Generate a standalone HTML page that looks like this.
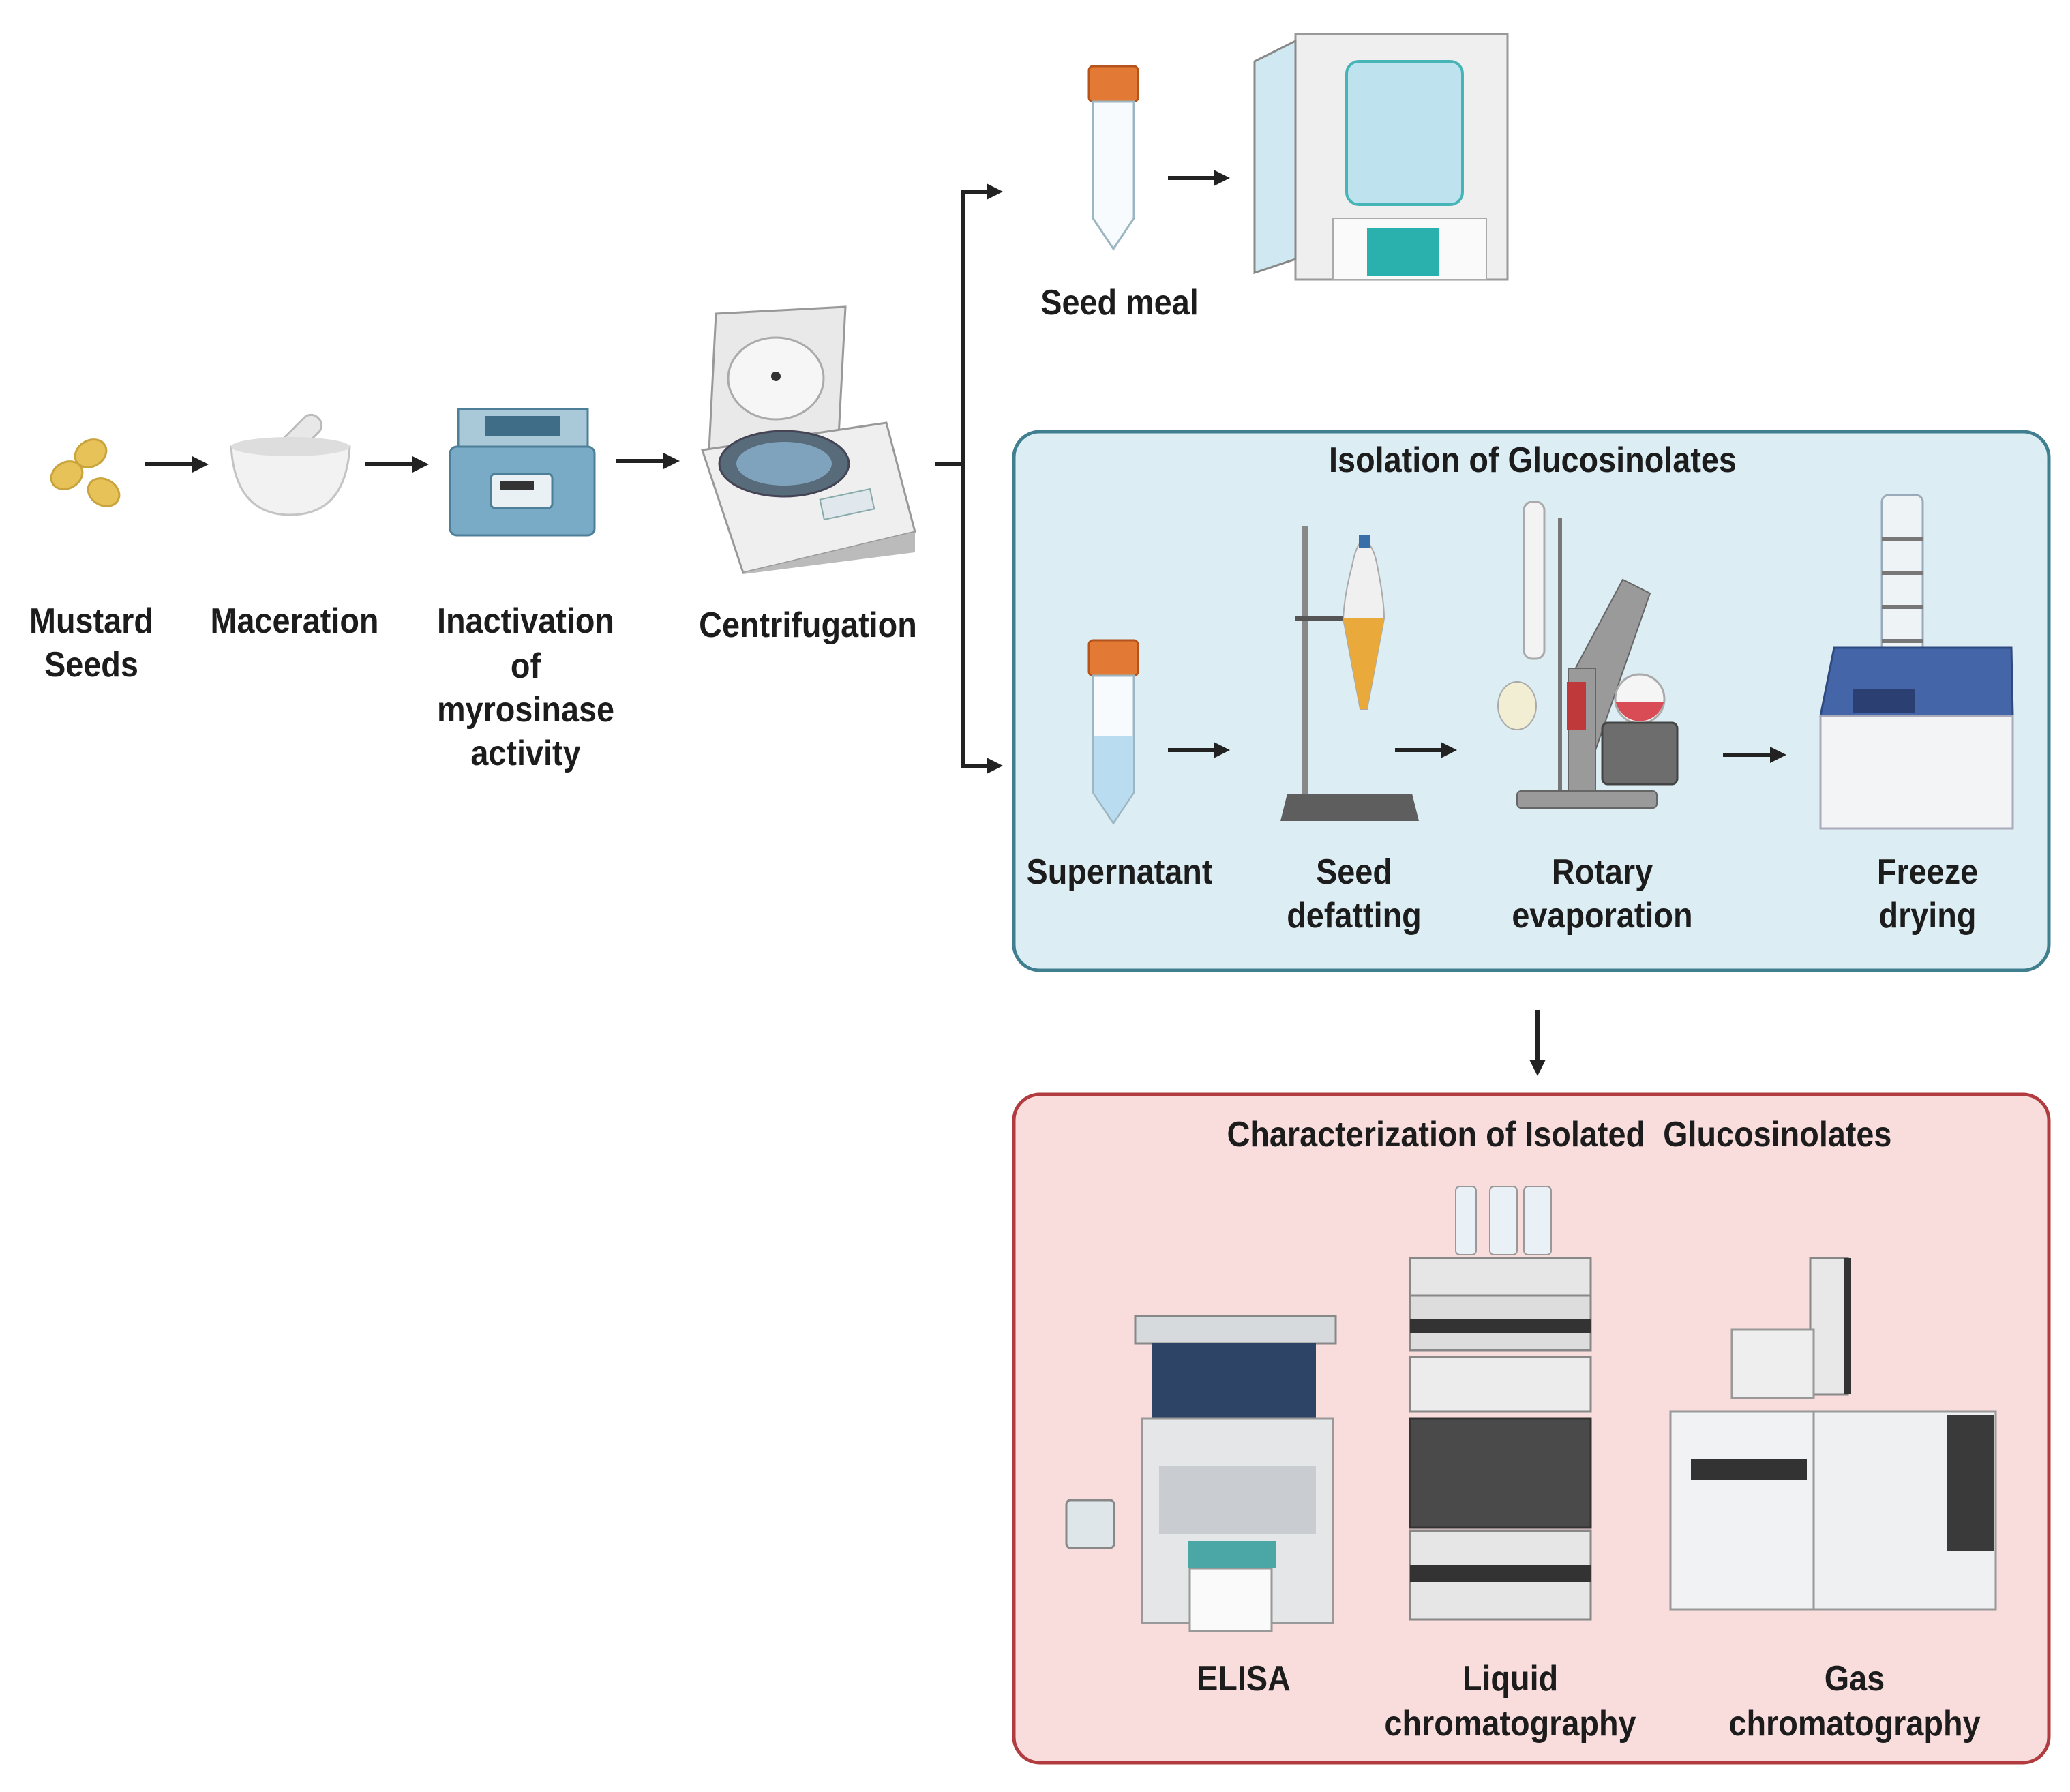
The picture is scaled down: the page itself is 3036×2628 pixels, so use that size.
<!DOCTYPE html>
<html><head><meta charset="utf-8"><style>
html,body{margin:0;padding:0;background:#fff;}
svg{display:block}
text{font-family:"Liberation Sans Narrow","Liberation Sans",sans-serif;font-weight:bold;fill:#1c1c1c;transform-box:fill-box;transform-origin:center;transform:scaleX(0.9);}
</style></head><body>
<svg width="3036" height="2628" viewBox="0 0 3036 2628" xmlns="http://www.w3.org/2000/svg">
<!-- boxes -->
<rect x="1487" y="633" width="1518" height="790" rx="38" fill="#dcedf4" stroke="#3f7f8f" stroke-width="5"/>
<rect x="1487" y="1605" width="1518" height="980" rx="38" fill="#f9dcdc" stroke="#b23b3f" stroke-width="5"/>

<!-- arrows -->
<g stroke="#222" stroke-width="6" fill="#222">
<line x1="213" y1="681" x2="285" y2="681"/><polygon points="306,681 282,669 282,693" stroke="none"/>
<line x1="536" y1="681" x2="608" y2="681"/><polygon points="629,681 605,669 605,693" stroke="none"/>
<line x1="904" y1="676" x2="976" y2="676"/><polygon points="997,676 973,664 973,688" stroke="none"/>
<line x1="1371" y1="681" x2="1413" y2="681"/>
<line x1="1413" y1="281" x2="1413" y2="1123"/>
<line x1="1410" y1="281" x2="1450" y2="281"/><polygon points="1471,281 1447,269 1447,293" stroke="none"/>
<line x1="1410" y1="1123" x2="1450" y2="1123"/><polygon points="1471,1123 1447,1111 1447,1135" stroke="none"/>
<line x1="1713" y1="261" x2="1783" y2="261"/><polygon points="1804,261 1780,249 1780,273" stroke="none"/>
<line x1="1713" y1="1100" x2="1783" y2="1100"/><polygon points="1804,1100 1780,1088 1780,1112" stroke="none"/>
<line x1="2046" y1="1100" x2="2116" y2="1100"/><polygon points="2137,1100 2113,1088 2113,1112" stroke="none"/>
<line x1="2527" y1="1107" x2="2599" y2="1107"/><polygon points="2620,1107 2596,1095 2596,1119" stroke="none"/>
<line x1="2255" y1="1481" x2="2255" y2="1557"/><polygon points="2255,1578 2243,1554 2267,1554" stroke="none"/>
</g>

<!-- seeds -->
<g fill="#e6c259" stroke="#c9a43c" stroke-width="3">
<ellipse cx="133" cy="665" rx="24" ry="19" transform="rotate(-30 133 665)"/>
<ellipse cx="98" cy="697" rx="24" ry="19" transform="rotate(-30 98 697)"/>
<ellipse cx="152" cy="722" rx="24" ry="19" transform="rotate(30 152 722)"/>
</g>
<!-- mortar -->
<rect x="420" y="600" width="30" height="90" rx="14" fill="#e8e8e8" stroke="#bbb" stroke-width="3" transform="rotate(45 435 645)"/>
<path d="M339 655 Q345 755 426 755 Q507 755 513 655 Z" fill="#f2f2f2" stroke="#c4c4c4" stroke-width="3"/>
<ellipse cx="426" cy="655" rx="87" ry="14" fill="#ddd"/>
<!-- heat block -->
<rect x="672" y="600" width="190" height="60" fill="#a9c9d9" stroke="#4e7f98" stroke-width="3"/>
<rect x="712" y="610" width="110" height="30" fill="#3f6d88"/>
<rect x="660" y="655" width="212" height="130" rx="10" fill="#79aac6" stroke="#4e7f98" stroke-width="3"/>
<rect x="720" y="695" width="90" height="50" rx="6" fill="#e9f1f5" stroke="#4e7f98" stroke-width="3"/>
<rect x="733" y="705" width="50" height="14" fill="#333"/>
<!-- centrifuge -->
<path d="M1050 460 L1240 450 L1230 640 L1040 660 Z" fill="#e9e9e9" stroke="#999" stroke-width="3"/>
<ellipse cx="1138" cy="555" rx="70" ry="60" fill="#f6f6f6" stroke="#aaa" stroke-width="3"/>
<circle cx="1138" cy="552" r="7" fill="#333"/>
<path d="M1030 660 L1300 620 L1342 780 L1090 840 Z" fill="#efefef" stroke="#999" stroke-width="3"/>
<path d="M1090 840 L1342 780 L1342 810 L1090 842 Z" fill="#bbb"/>
<ellipse cx="1150" cy="680" rx="95" ry="48" fill="#576b7a" stroke="#445" stroke-width="3"/>
<ellipse cx="1150" cy="680" rx="70" ry="32" fill="#7fa3bd"/>
<rect x="1205" y="725" width="75" height="30" fill="#e0e8ee" stroke="#8aa" stroke-width="2" transform="rotate(-12 1240 740)"/>
<!-- tubes -->
<rect x="1597" y="97" width="72" height="52" rx="6" fill="#e27a35" stroke="#b4531b" stroke-width="3"/>
<path d="M1603 149 L1663 149 L1663 320 L1633 365 L1603 320 Z" fill="#f7fbfd" stroke="#9cb6c2" stroke-width="3"/>
<rect x="1597" y="939" width="72" height="52" rx="6" fill="#e27a35" stroke="#b4531b" stroke-width="3"/>
<path d="M1603 991 L1663 991 L1663 1162 L1633 1207 L1603 1162 Z" fill="#f7fbfd" stroke="#9cb6c2" stroke-width="3"/>
<path d="M1604 1080 L1662 1080 L1662 1162 L1633 1205 L1604 1162 Z" fill="#b9dcf0"/>
<!-- incubator -->
<rect x="1900" y="50" width="311" height="360" fill="#efefef" stroke="#999" stroke-width="3"/>
<rect x="1975" y="90" width="170" height="210" rx="18" fill="#bfe3ee" stroke="#46b5b8" stroke-width="4"/>
<path d="M1840 90 L1900 60 L1900 380 L1840 400 Z" fill="#cfe8f2" stroke="#888" stroke-width="3"/>
<rect x="1955" y="320" width="225" height="90" fill="#fafafa" stroke="#aaa" stroke-width="2"/>
<rect x="2005" y="335" width="105" height="70" fill="#2ab0ad"/>
<!-- stand -->
<rect x="1910" y="771" width="8" height="400" fill="#888"/>
<polygon points="1888,1164 2071,1164 2081,1204 1878,1204" fill="#5e5e5e"/>
<line x1="1900" y1="907" x2="2030" y2="907" stroke="#555" stroke-width="6"/>
<path d="M1983 830 Q1988 800 2000 790 Q2015 800 2020 830 Q2030 880 2030 907 L2005 1040 L1995 1040 L1970 907 Q1972 870 1983 830 Z" fill="#f0f0f0" stroke="#aaa" stroke-width="2"/>
<path d="M1970 907 L2030 907 L2005 1040 L1995 1040 Z" fill="#e9a93b"/>
<rect x="1993" y="785" width="16" height="18" fill="#3a6ea8"/>
<!-- rotavap -->
<rect x="2235" y="736" width="30" height="230" rx="12" fill="#f3f3f3" stroke="#aaa" stroke-width="3"/>
<rect x="2285" y="760" width="6" height="420" fill="#777"/>
<path d="M2300 1000 L2380 850 L2420 870 L2340 1100 Z" fill="#9a9a9a" stroke="#666" stroke-width="2"/>
<rect x="2300" y="980" width="40" height="200" fill="#9a9a9a" stroke="#666" stroke-width="2"/>
<rect x="2298" y="1000" width="28" height="70" fill="#c0393a"/>
<circle cx="2405" cy="1025" r="36" fill="#f5f5f5" stroke="#aaa" stroke-width="3"/>
<path d="M2370 1030 A36 36 0 0 0 2440 1030 Z" fill="#d94c55"/>
<rect x="2350" y="1060" width="110" height="90" rx="8" fill="#6d6d6d" stroke="#444" stroke-width="3"/>
<ellipse cx="2225" cy="1035" rx="28" ry="35" fill="#f1eed3" stroke="#aaa" stroke-width="2"/>
<rect x="2225" y="1160" width="205" height="25" rx="6" fill="#9a9a9a" stroke="#666" stroke-width="2"/>
<!-- freeze dryer -->
<rect x="2760" y="726" width="60" height="250" rx="10" fill="#eef4f6" stroke="#9ab" stroke-width="3"/>
<g stroke="#777" stroke-width="6"><line x1="2760" y1="790" x2="2820" y2="790"/><line x1="2760" y1="840" x2="2820" y2="840"/><line x1="2760" y1="890" x2="2820" y2="890"/><line x1="2760" y1="940" x2="2820" y2="940"/></g>
<path d="M2690 950 L2950 950 L2952 1050 L2670 1050 Z" fill="#4466a8" stroke="#2f4a80" stroke-width="3"/>
<rect x="2718" y="1010" width="90" height="35" fill="#2c3f73"/>
<rect x="2670" y="1050" width="282" height="165" fill="#f2f4f6" stroke="#aab" stroke-width="3"/>
<!-- ELISA -->
<rect x="1665" y="1930" width="294" height="40" fill="#d6dadd" stroke="#888" stroke-width="3"/>
<rect x="1690" y="1970" width="240" height="110" fill="#2e4466"/>
<rect x="1675" y="2080" width="280" height="300" fill="#e4e6e8" stroke="#999" stroke-width="3"/>
<rect x="1700" y="2150" width="230" height="100" fill="#c9cdd1"/>
<rect x="1745" y="2300" width="120" height="92" fill="#fafafa" stroke="#999" stroke-width="3"/>
<rect x="1564" y="2200" width="70" height="70" rx="6" fill="#dfe6ea" stroke="#888" stroke-width="3"/>
<rect x="1742" y="2260" width="130" height="40" fill="#4aa7a5"/>
<!-- LC -->
<rect x="2135" y="1740" width="30" height="100" rx="6" fill="#e9f1f6" stroke="#999" stroke-width="2"/>
<rect x="2185" y="1740" width="40" height="100" rx="6" fill="#e9f1f6" stroke="#999" stroke-width="2"/>
<rect x="2235" y="1740" width="40" height="100" rx="6" fill="#e9f1f6" stroke="#999" stroke-width="2"/>
<rect x="2068" y="1845" width="265" height="55" fill="#e6e6e6" stroke="#888" stroke-width="3"/>
<rect x="2068" y="1900" width="265" height="80" fill="#ddd" stroke="#888" stroke-width="3"/>
<rect x="2068" y="1935" width="265" height="20" fill="#333"/>
<rect x="2068" y="1990" width="265" height="80" fill="#ececec" stroke="#888" stroke-width="3"/>
<rect x="2068" y="2080" width="265" height="160" fill="#4a4a4a" stroke="#333" stroke-width="3"/>
<rect x="2068" y="2245" width="265" height="130" fill="#e6e6e6" stroke="#888" stroke-width="3"/>
<rect x="2068" y="2295" width="265" height="25" fill="#333"/>
<!-- GC -->
<rect x="2655" y="1845" width="55" height="200" fill="#e8e8e8" stroke="#888" stroke-width="3"/>
<rect x="2705" y="1845" width="10" height="200" fill="#333"/>
<rect x="2540" y="1950" width="120" height="100" fill="#eee" stroke="#999" stroke-width="3"/>
<rect x="2450" y="2070" width="210" height="290" fill="#f1f2f3" stroke="#999" stroke-width="3"/>
<rect x="2480" y="2140" width="170" height="30" fill="#333"/>
<rect x="2660" y="2070" width="267" height="290" fill="#eef0f2" stroke="#999" stroke-width="3"/>
<rect x="2855" y="2075" width="70" height="200" fill="#3a3a3a"/>

<!-- labels -->
<g font-size="52" text-anchor="middle">
<text x="134" y="928">Mustard</text><text x="134" y="992">Seeds</text>
<text x="432" y="928">Maceration</text>
<text x="771" y="928">Inactivation</text><text x="771" y="994">of</text><text x="771" y="1058">myrosinase</text><text x="771" y="1122">activity</text>
<text x="1185" y="934">Centrifugation</text>
<text x="1642" y="461">Seed meal</text>
<text x="2248" y="692">Isolation of Glucosinolates</text>
<text x="1642" y="1296">Supernatant</text>
<text x="1986" y="1296">Seed</text><text x="1986" y="1360">defatting</text>
<text x="2350" y="1296">Rotary</text><text x="2350" y="1360">evaporation</text>
<text x="2827" y="1296">Freeze</text><text x="2827" y="1360">drying</text>
<text x="2287" y="1681" xml:space="preserve">Characterization of Isolated  Glucosinolates</text>
<text x="1824" y="2479">ELISA</text>
<text x="2215" y="2479">Liquid</text><text x="2215" y="2545">chromatography</text>
<text x="2720" y="2479">Gas</text><text x="2720" y="2545">chromatography</text>
</g>
</svg>
</body></html>
